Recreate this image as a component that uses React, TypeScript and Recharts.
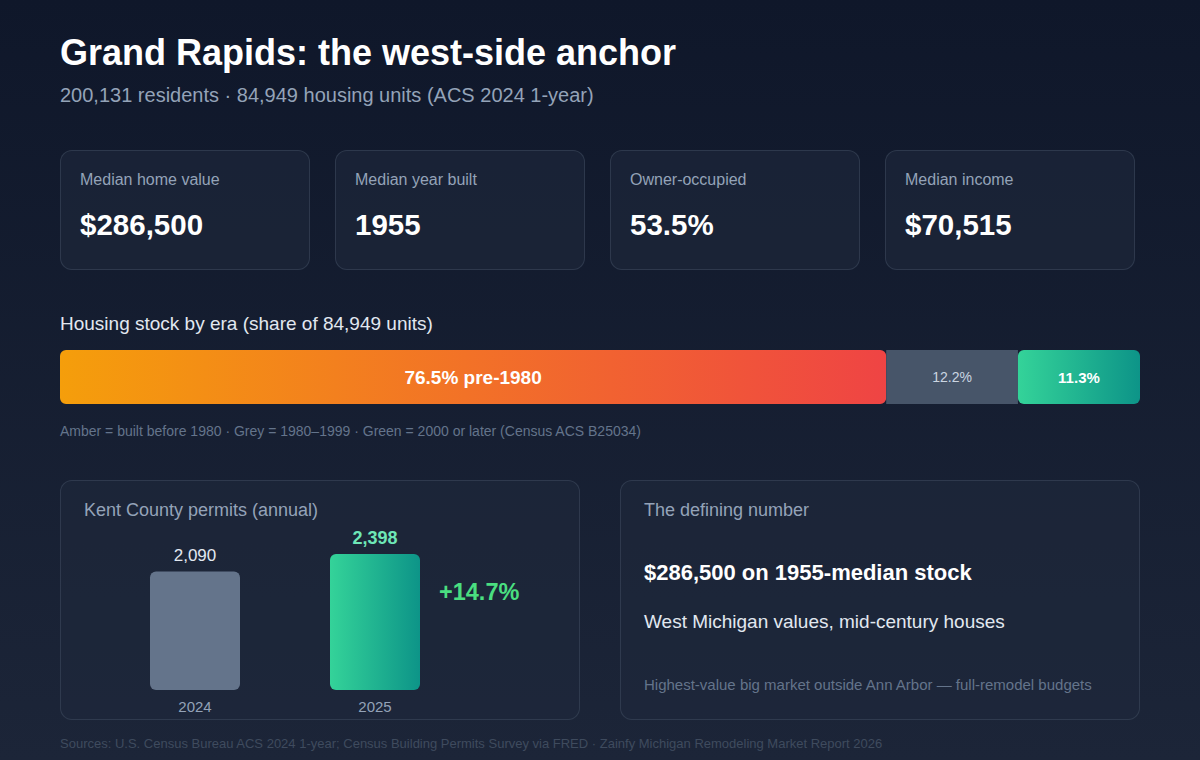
import React from 'react';
import { BarChart, Bar, XAxis, YAxis, Cell, LabelList } from 'recharts';

// headline numbers
const kpiLabels = ['Median home value', 'Median year built', 'Owner-occupied', 'Median income'];
const kpiValues = ['$286,500', '1955', '53.5%', '$70,515'];

// housing stock by era (% of units)
const eraKeys = ['pre1980', 'y1980to1999', 'y2000plus'];
const eraShares = [76.5, 12.2, 11.3];
const eraLabels = ['76.5% pre-1980', '12.2%', '11.3%'];

// Kent County permits
const permitYears = ['2024', '2025'];
const permitCounts = [2090, 2398];

const FONT = '"Liberation Sans", Arial, sans-serif';

const eraRow = [
  eraKeys.reduce((row: any, k, i) => {
    row[k] = eraShares[i];
    return row;
  }, { name: 'stock' }),
];

const permitData = permitYears.map((year, i) => ({ year, permits: permitCounts[i] }));
const growth = ((permitCounts[1] / permitCounts[0] - 1) * 100).toFixed(1);

const card: React.CSSProperties = {
  position: 'absolute',
  boxSizing: 'border-box',
  background: 'rgba(30, 41, 59, 0.62)',
  border: '1px solid rgba(71, 85, 105, 0.45)',
  borderRadius: 12,
};

const txt = (left: number, top: number, size: number, color: string, bold = false): React.CSSProperties => ({
  position: 'absolute',
  left,
  top,
  fontSize: size,
  lineHeight: 1,
  color,
  fontWeight: bold ? 700 : 400,
  whiteSpace: 'nowrap',
});

const eraLabel = (i: number) => (props: any) => {
  const { x, y, width, height } = props;
  const styles = [
    { size: 19, color: '#ffffff', weight: 700 },
    { size: 14, color: '#cbd5e1', weight: 400 },
    { size: 15, color: '#ffffff', weight: 700 },
  ][i];
  return (
    <text
      x={x + width / 2}
      y={y + height / 2}
      textAnchor="middle"
      dominantBaseline="central"
      fill={styles.color}
      fontSize={styles.size}
      fontWeight={styles.weight}
      fontFamily={FONT}
    >
      {eraLabels[i]}
    </text>
  );
};

const permitLabel = (props: any) => {
  const { x, y, width, value } = props;
  const isLatest = value === Math.max(...permitCounts);
  return (
    <text
      x={x + width / 2}
      y={y - 10}
      textAnchor="middle"
      fill={isLatest ? '#6ee7b7' : '#e2e8f0'}
      fontSize={isLatest ? 18 : 17}
      fontWeight={isLatest ? 700 : 400}
      fontFamily={FONT}
    >
      {value.toLocaleString('en-US')}
    </text>
  );
};

export default function App() {
  return (
    <div
      style={{
        position: 'absolute',
        left: 0,
        top: 0,
        width: 1200,
        height: 760,
        overflow: 'hidden',
        fontFamily: FONT,
        background: 'linear-gradient(180deg, #0f172a 0%, #1c2538 100%)',
      }}
    >
      <div style={txt(60, 35, 36, '#ffffff', true)}>Grand Rapids: the west-side anchor</div>
      <div style={txt(60, 85, 20, '#94a3b8')}>200,131 residents · 84,949 housing units (ACS 2024 1-year)</div>

      {kpiLabels.map((label, i) => (
        <div key={label} style={{ ...card, left: 60 + i * 275, top: 150, width: 250, height: 120 }}>
          <div style={txt(19, 21, 16, '#94a3b8')}>{label}</div>
          <div style={txt(19, 59, 29.5, '#ffffff', true)}>{kpiValues[i]}</div>
        </div>
      ))}

      <div style={txt(60, 314, 19, '#e2e8f0')}>Housing stock by era (share of 84,949 units)</div>

      <div style={{ position: 'absolute', left: 60, top: 350 }}>
        <BarChart
          width={1080}
          height={54}
          data={eraRow}
          layout="vertical"
          margin={{ top: 0, right: 0, bottom: 0, left: 0 }}
          barCategoryGap={0}
        >
          <defs>
            <linearGradient id="ambGrad" x1="0" y1="0" x2="1" y2="0">
              <stop offset="0%" stopColor="#f59e0b" />
              <stop offset="100%" stopColor="#ef4444" />
            </linearGradient>
            <linearGradient id="grnGrad" x1="0" y1="0" x2="1" y2="0">
              <stop offset="0%" stopColor="#34d399" />
              <stop offset="100%" stopColor="#0d9488" />
            </linearGradient>
          </defs>
          <XAxis type="number" domain={[0, 100]} hide />
          <YAxis type="category" dataKey="name" hide />
          <Bar dataKey={eraKeys[0]} stackId="s" fill="url(#ambGrad)" radius={6} isAnimationActive={false}>
            <LabelList dataKey={eraKeys[0]} content={eraLabel(0)} />
          </Bar>
          <Bar dataKey={eraKeys[1]} stackId="s" fill="#475569" radius={0} isAnimationActive={false}>
            <LabelList dataKey={eraKeys[1]} content={eraLabel(1)} />
          </Bar>
          <Bar dataKey={eraKeys[2]} stackId="s" fill="url(#grnGrad)" radius={6} isAnimationActive={false}>
            <LabelList dataKey={eraKeys[2]} content={eraLabel(2)} />
          </Bar>
        </BarChart>
      </div>

      <div style={txt(60, 424, 14, '#64748b')}>
        Amber = built before 1980 · Grey = 1980–1999 · Green = 2000 or later (Census ACS B25034)
      </div>

      {/* permits card */}
      <div style={{ ...card, left: 60, top: 480, width: 520, height: 240 }}>
        <div style={txt(23, 20, 18, '#94a3b8')}>Kent County permits (annual)</div>
        <div style={{ position: 'absolute', left: 44, top: 39 }}>
          <BarChart
            width={360}
            height={201}
            data={permitData}
            margin={{ top: 34, right: 0, bottom: 0, left: 0 }}
            barSize={90}
          >
            <defs>
              <linearGradient id="permGrad" x1="0" y1="0" x2="1" y2="0">
                <stop offset="0%" stopColor="#34d399" />
                <stop offset="100%" stopColor="#0d9488" />
              </linearGradient>
            </defs>
            <XAxis
              dataKey="year"
              axisLine={false}
              tickLine={false}
              height={31}
              tick={{ fill: '#94a3b8', fontSize: 15, fontFamily: FONT, dy: 3 }}
            />
            <YAxis hide domain={[0, 'dataMax']} />
            <Bar dataKey="permits" radius={6} isAnimationActive={false}>
              {permitData.map((d, i) => (
                <Cell key={d.year} fill={i === permitData.length - 1 ? 'url(#permGrad)' : '#64748b'} />
              ))}
              <LabelList dataKey="permits" content={permitLabel} />
            </Bar>
          </BarChart>
        </div>
        <div style={txt(378, 100, 23.5, '#4ade80', true)}>+{growth}%</div>
      </div>

      {/* defining number card */}
      <div style={{ ...card, left: 620, top: 480, width: 520, height: 240 }}>
        <div style={txt(23, 20, 18, '#94a3b8')}>The defining number</div>
        <div style={txt(23, 81, 22, '#ffffff', true)}>$286,500 on 1955-median stock</div>
        <div style={txt(23, 131, 19, '#e2e8f0')}>West Michigan values, mid-century houses</div>
        <div style={txt(23, 196, 15, '#64748b')}>Highest-value big market outside Ann Arbor — full-remodel budgets</div>
      </div>

      <div style={txt(60, 737, 13, '#3f4b5e')}>
        Sources: U.S. Census Bureau ACS 2024 1-year; Census Building Permits Survey via FRED · Zainfy Michigan Remodeling Market Report 2026
      </div>
    </div>
  );
}
